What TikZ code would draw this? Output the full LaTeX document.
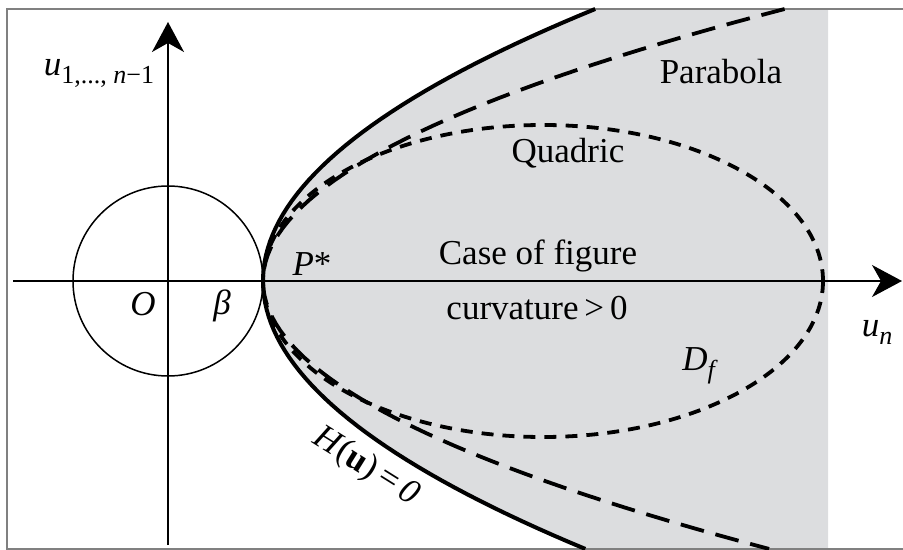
\documentclass[tikz,border=0pt]{standalone}
\usepackage{fontspec}
\setmainfont{Liberation Serif}
\usetikzlibrary{arrows.meta}
\definecolor{regiongray}{RGB}{220,221,223}
\definecolor{framegray}{RGB}{128,128,128}
\newcommand{\lowsub}[1]{\raisebox{-4pt}{\fontsize{13}{14}\selectfont #1}}
\begin{document}
\begin{tikzpicture}[x=0.5pt,y=-0.5pt,
    lbl/.style={font=\fontsize{17.5}{20}\selectfont, inner sep=0pt},
    axis/.style={line width=0.8pt, -{Stealth[length=15pt,width=16pt,inset=4.5pt]}},
    longdash/.style={line width=1.9pt, dash pattern=on 12pt off 6pt},
    shortdash/.style={line width=1.9pt, dash pattern=on 6pt off 4.5pt}]
  \useasboundingbox (0,0) rectangle (903,550);
  % shaded region right of H(u)=0
  \fill[regiongray] plot[domain=-2.72:2.68, samples=80] ({263+44.9*(\x)^2},{281+100*\x}) -- (828,549) -- (828,9) -- cycle;
  % frame
  \draw[framegray, line width=0.75pt] (903,9) -- (7,9) -- (7,549) -- (903,549);
  % curves
  \draw[shortdash] (543,281) ellipse[x radius=280, y radius=156];
  \draw[longdash] plot[domain=-2.72:2.68, samples=80] ({263+70.5*(\x)^2},{281+100*\x});
  \draw[line width=2pt] plot[domain=-2.72:2.68, samples=80] ({263+44.9*(\x)^2},{281+100*\x});
  \draw[line width=0.75pt] (168,281) circle[radius=95];
  % axes
  \coordinate (xstart) at (13,281);
  \coordinate (xend) at (902,281);
  \coordinate (ystart) at (168,545);
  \coordinate (yend) at (168,22);
  \draw[axis] (xstart) -- (xend);
  \draw[axis] (ystart) -- (yend);
  % labels
  \node[lbl] (parabola) at (721,72) {Parabola};
  \node[lbl] (quadric) at (568,153) {Quadric};
  \node[lbl] (casefig) at (538,256) {Case of figure};
  \node[lbl] (curv) at (537,308) {curvature\,>\,0};
  \node[lbl] (pstar) at (312,264) {\textit{P}*};
  \node[lbl] (origin) at (143,304) {\textit{O}};
  \node[lbl] (beta) at (222,306) {\textit{β}};
  \node[lbl] (dflabel) at (700,366) {\textit{D}\lowsub{\textit{f}}};
  \node[lbl] (unlabel) at (877,332) {\textit{u}\lowsub{\textit{n}}};
  \node[lbl] (u1label) at (99,73) {\textit{u}\lowsub{1,..., \textit{n}−1}};
  \node[lbl, rotate=-32] (hlabel) at (366,467) {\textit{H}(\textbf{u})\,=\,\textit{0}};
\end{tikzpicture}
\end{document}
